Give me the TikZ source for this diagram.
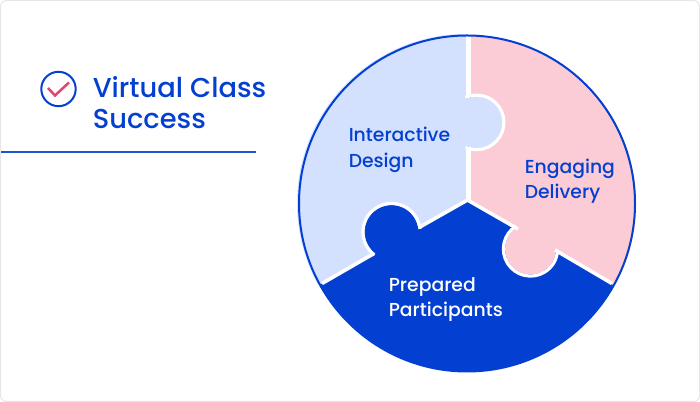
\documentclass[tikz,border=0pt]{standalone}
\usepackage{fontspec}
\setmainfont{Poppins}
\newfontfamily\medfont{Poppins Medium}
\usetikzlibrary{positioning}
\definecolor{brandblue}{HTML}{033FD0}
\definecolor{softblue}{HTML}{D3E0FE}
\definecolor{softpink}{HTML}{FBCCD5}
\definecolor{checkpink}{HTML}{E0476B}
\definecolor{cardline}{HTML}{E6E6E6}
\tikzset{
    seam/.style = {draw=white,line width=2.7pt},
    seamv/.style = {draw=white,line width=3.75pt},
    tabseam/.style = {draw=white,line width=2.4pt},
    ring/.style = {draw=brandblue,line width=1.5pt},
    title/.style = {anchor=north west,inner sep=0pt,align=left,text=brandblue,font=\medfont\fontsize{20.5}{23.25}\selectfont},
    piecelabel/.style = {anchor=north west,inner sep=0pt,align=left,font=\medfont\fontsize{14.1}{19}\selectfont},
}

\begin{document}
\begin{tikzpicture}[x=0.75pt,y=0.75pt]
\useasboundingbox (0,0) rectangle (700,402);
\draw[draw=cardline,line width=0.75pt,rounded corners=4.5pt] (0.5,0.5) rectangle (699.5,401.5);
%
\coordinate (hub) at (467.5,202);
\coordinate (leftend) at (322,118.5);
\coordinate (rightend) at (612,118.5);
\coordinate (bluetab) at (391.5,170);
\coordinate (pinktab) at (530.5,153);
\coordinate (softtab) at (476.6,279.6);
%
% pieces
\fill[brandblue] (467,198.5) circle (168);
\fill[softpink] (471,366.5) arc[start angle=89,end angle=-30,radius=168] -- (rightend) -- (hub) -- (471,200) -- cycle;
\fill[softblue] (466,368) arc[start angle=90,end angle=209,radius=169] -- (leftend) -- (hub) -- (466,200) -- cycle;
% tabs
\fill[softblue] (softtab) circle (25.7);
\fill[softpink] (pinktab) circle (25.5);
\fill[brandblue] (bluetab) circle (27);
%
% seams
\draw[seamv] (468.5,366) -- (468.5,304.5);
\draw[seamv] (468.5,255) -- (468.5,200.5);
\draw[seam] (leftend) -- (374,148.5);
\draw[seam] (419,174.5) -- (hub);
\draw[seam] (hub) -- (518,173);
\draw[seam] (555,152) -- (rightend);
\draw[tabseam] ([shift={(122:27.1)}]pinktab) arc[start angle=122,end angle=358,radius=27.1];
\draw[tabseam] ([shift={(114:27.3)}]softtab) arc[start angle=114,end angle=-114,radius=27.3];
\draw[tabseam] ([shift={(233:28.6)}]bluetab) arc[start angle=233,end angle=6,radius=28.6];
\draw[ring] (467,198.5) circle (168);
%
\node[piecelabel,text=brandblue] at (348.5,275) (interactive) {Interactive\\Design};
\node[piecelabel,text=brandblue] at (524.5,243.5) (engaging) {Engaging\\Delivery};
\node[piecelabel,text=white] at (388.5,125) (prepared) {Prepared\\Participants};
%
\draw[draw=brandblue,line width=1.5pt] (58.5,313) circle (17.2);
\draw[draw=checkpink,line width=1.9pt] (48,314) -- (55,306.5) -- (69,319.5);
\node[title] at (92.5,326) (heading) {Virtual Class\\Success};
\coordinate (ruleleft) at (1,249.5);
\coordinate (ruleright) at (256,249.5);
\draw[draw=brandblue!90!white,line width=1.5pt] (ruleleft) -- (ruleright);
\end{tikzpicture}
\end{document}
